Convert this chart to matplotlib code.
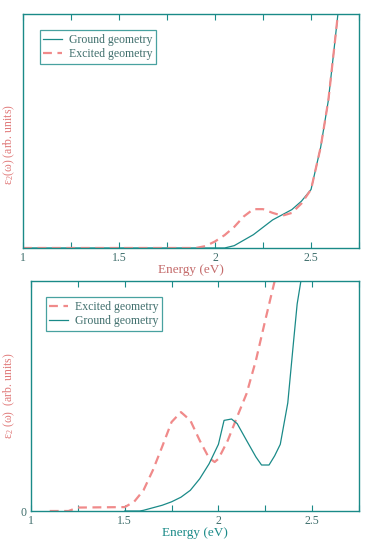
import matplotlib
matplotlib.use("Agg")
import matplotlib.pyplot as plt

plt.rcParams['font.family'] = ['Liberation Serif', 'DejaVu Serif']
plt.rcParams['mathtext.fontset'] = 'stix'

TEAL = "#1a8a88"
PINK = "#f08a8a"
TEXT_DARK = "#3f6e6c"

# top panel: ground vs excited geometry
top_ground_x = [1.0, 2.0, 2.05, 2.1, 2.2, 2.3, 2.35, 2.4, 2.45, 2.5, 2.55, 2.59, 2.62, 2.64, 2.66]
top_ground_y = [0.0, 0.0, 0.0, 0.01, 0.057, 0.12, 0.142, 0.164, 0.2, 0.25, 0.43, 0.63, 0.85, 1.0, 1.1]
top_exc_x = [1.0, 1.9, 1.95, 2.0, 2.05, 2.1, 2.15, 2.2, 2.25, 2.3, 2.35, 2.4, 2.45, 2.5, 2.55, 2.59, 2.62, 2.64, 2.66]
top_exc_y = [0.0, 0.0, 0.008, 0.028, 0.055, 0.09, 0.135, 0.166, 0.166, 0.15, 0.138, 0.15, 0.19, 0.25, 0.43, 0.63, 0.85, 1.0, 1.1]

# bottom panel
bot_exc_x = [1.1, 1.2, 1.25, 1.5, 1.55, 1.6, 1.65, 1.7, 1.75, 1.8, 1.85, 1.9, 1.95, 1.98, 2.0, 2.05, 2.1, 2.15, 2.2, 2.25, 2.3, 2.32]
bot_exc_y = [0.0, 0.0, 0.015, 0.017, 0.04, 0.09, 0.177, 0.28, 0.387, 0.43, 0.394, 0.307, 0.23, 0.213, 0.227, 0.307, 0.41, 0.51, 0.655, 0.83, 1.0, 1.1]
bot_ground_x = [1.5, 1.58, 1.6, 1.7, 1.75, 1.8, 1.85, 1.9, 1.95, 2.0, 2.03, 2.07, 2.1, 2.15, 2.2, 2.23, 2.27, 2.3, 2.33, 2.37, 2.4, 2.42, 2.44, 2.46]
bot_ground_y = [0.0, 0.0, 0.003, 0.025, 0.04, 0.06, 0.09, 0.14, 0.205, 0.29, 0.394, 0.40, 0.38, 0.307, 0.235, 0.2, 0.2, 0.24, 0.29, 0.47, 0.73, 0.9, 1.0, 1.1]

xticks = [1.0, 1.25, 1.5, 1.75, 2.0, 2.25, 2.5, 2.75]
xticklabels = ["1", "", "1.5", "", "2", "", "2.5", ""]


def style_axes(ax, xlabel_color):
    ax.set_xlim(1.0, 2.75)
    ax.set_ylim(0, 1)
    ax.set_xticks(xticks)
    ax.set_xticklabels(xticklabels)
    ax.tick_params(axis="x", direction="in", top=True, length=4, width=0.8,
                   color=TEAL, labelsize=8.5, labelcolor=TEXT_DARK, pad=3)
    ax.tick_params(axis="y", length=0, labelsize=8.5, labelcolor=TEXT_DARK)
    for s in ax.spines.values():
        s.set_color(TEAL)
        s.set_linewidth(1.0)
    ax.set_xlabel("Energy (eV)", fontsize=9.5, color=xlabel_color, labelpad=0)


def style_legend(leg):
    leg.get_frame().set_edgecolor(TEAL)
    leg.get_frame().set_linewidth(0.9)
    for t in leg.get_texts():
        t.set_color(TEXT_DARK)


fig = plt.figure(figsize=(3.74, 5.46), dpi=100)

ax1 = fig.add_axes([0.0615, 0.5458, 0.8985, 0.4286])
ax1.plot(top_ground_x, top_ground_y, color=TEAL, lw=0.9, label="Ground geometry")
ax1.plot(top_exc_x, top_exc_y, color=PINK, lw=1.6, ls=(0, (4, 2.5)), label="Excited geometry")
style_axes(ax1, "#c46a6a")
ax1.set_yticks([])
ax1.set_ylabel(r"$\mathregular{\varepsilon_2(\omega)}$ (arb. units)", fontsize=8.5,
               color="#e07878", labelpad=4, y=0.44)
leg = ax1.legend(loc="upper left", bbox_to_anchor=(0.05, 0.93), fontsize=8.5, frameon=True,
                 fancybox=False, handlelength=1.6, handletextpad=0.6, borderpad=0.3,
                 labelspacing=0.2, borderaxespad=0)
style_legend(leg)

ax2 = fig.add_axes([0.0829, 0.0641, 0.877, 0.4212])
ax2.plot(bot_exc_x, bot_exc_y, color=PINK, lw=1.6, ls=(0, (4, 2.5)), label="Excited geometry")
ax2.plot(bot_ground_x, bot_ground_y, color=TEAL, lw=0.9, label="Ground geometry")
style_axes(ax2, TEAL)
ax2.set_yticks([0])
ax2.set_yticklabels(["0"])
ax2.set_ylabel(r"$\mathregular{\varepsilon_2\ (\omega)}$  (arb. units)", fontsize=8.5,
               color="#e07878", labelpad=2, y=0.5)
leg2 = ax2.legend(loc="upper left", bbox_to_anchor=(0.045, 0.93), fontsize=8.5, frameon=True,
                  fancybox=False, handlelength=1.6, handletextpad=0.6, borderpad=0.3,
                  labelspacing=0.2, borderaxespad=0)
style_legend(leg2)

fig.savefig("out.png", dpi=100)
